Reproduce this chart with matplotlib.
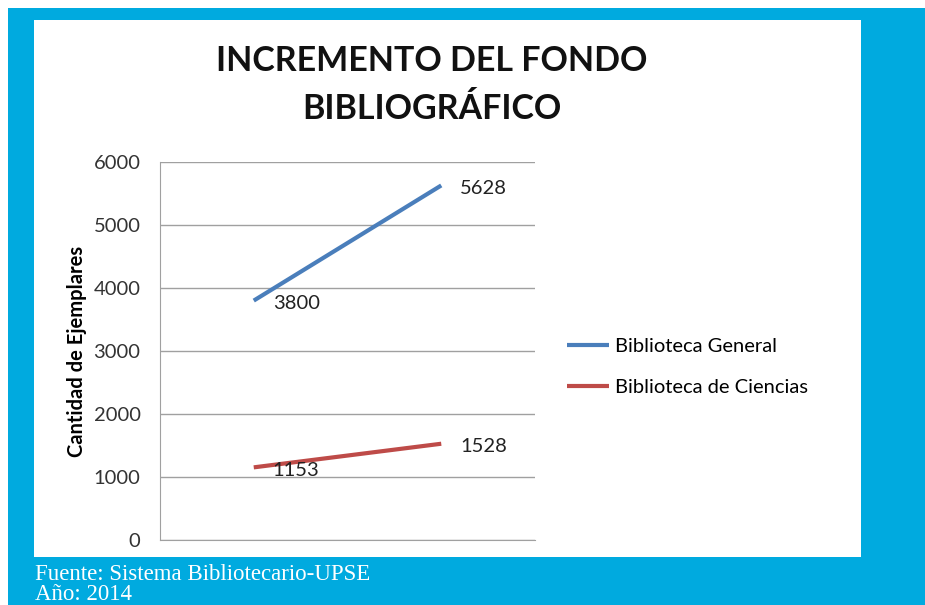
import matplotlib
matplotlib.use("Agg")
import matplotlib.pyplot as plt
from matplotlib.patches import Rectangle

# datos
categorias = ["Inicial", "Final"]
general = [3800, 5628]
ciencias = [1153, 1528]
series_nombres = ["Biblioteca General", "Biblioteca de Ciencias"]
yticks = [0, 1000, 2000, 3000, 4000, 5000, 6000]

W, H = 925, 605
azul_fondo = "#00aadf"
azul_linea = "#4a7ebb"
rojo_linea = "#be4b48"

plt.rcParams['font.family'] = ['Lato', 'DejaVu Sans']

fig = plt.figure(figsize=(W / 100, H / 100), dpi=100)
fig.patch.set_facecolor("white")

# fondo azul y panel blanco
fig.patches.append(Rectangle((8 / W, 0), 1, 597 / H, transform=fig.transFigure,
                             facecolor=azul_fondo, edgecolor="none", zorder=0))
fig.patches.append(Rectangle((34 / W, (H - 557) / H), 827 / W, 537 / H,
                             transform=fig.transFigure, facecolor="white",
                             edgecolor="none", zorder=1))

ax = fig.add_axes([160 / W, (H - 540) / H, 375 / W, 378 / H])
ax.set_facecolor("none")
ax.set_zorder(5)

x = list(range(len(categorias)))
ax.plot(x, general, color=azul_linea, lw=3, label=series_nombres[0], solid_capstyle="butt")
ax.plot(x, ciencias, color=rojo_linea, lw=3, label=series_nombres[1], solid_capstyle="butt")

for serie in (general, ciencias):
    for xi, v in zip(x, serie):
        ax.annotate(str(v), (xi, v), xytext=(19, -3), textcoords="offset pixels",
                    ha="left", va="center", fontsize=14.5, color="#222222")

ax.set_xlim(-0.5, 1.5)
ax.set_ylim(0, 6000)
ax.set_yticks(yticks)
ax.set_yticklabels([str(t) for t in yticks], fontsize=14.5, color="#333333")
ax.set_xticks([])
ax.grid(axis="y", color="#a0a0a0", lw=1)
ax.set_axisbelow(True)
for s in ("top", "right"):
    ax.spines[s].set_visible(False)
ax.spines["left"].set_color("#a0a0a0")
ax.spines["bottom"].set_color("#a0a0a0")
ax.tick_params(axis="y", length=0, pad=14)
ax.set_ylabel("Cantidad de Ejemplares", fontsize=14.5, fontweight="bold", labelpad=5)

leg = ax.legend(loc="center left", bbox_to_anchor=(549 / W, (H - 367) / H),
                bbox_transform=fig.transFigure, frameon=False, fontsize=14.5,
                handlelength=2.1, handletextpad=0.3, labelspacing=1.2)

fig.text(432 / W, (H - 85) / H, "INCREMENTO DEL FONDO\nBIBLIOGRÁFICO", ha="center",
         va="center", fontsize=24.5, fontweight="bold", linespacing=1.65, color="#111111",
         zorder=5)

fig.text(35 / W, (H - 575) / H, "Fuente: Sistema Bibliotecario-UPSE", ha="left",
         va="center", fontsize=16.5, color="white", family="Liberation Serif", zorder=5)
fig.text(35 / W, (H - 594) / H, "Año: 2014", ha="left", va="center", fontsize=16.5,
         color="white", family="Liberation Serif", zorder=5)

fig.savefig("out.png", dpi=100)
